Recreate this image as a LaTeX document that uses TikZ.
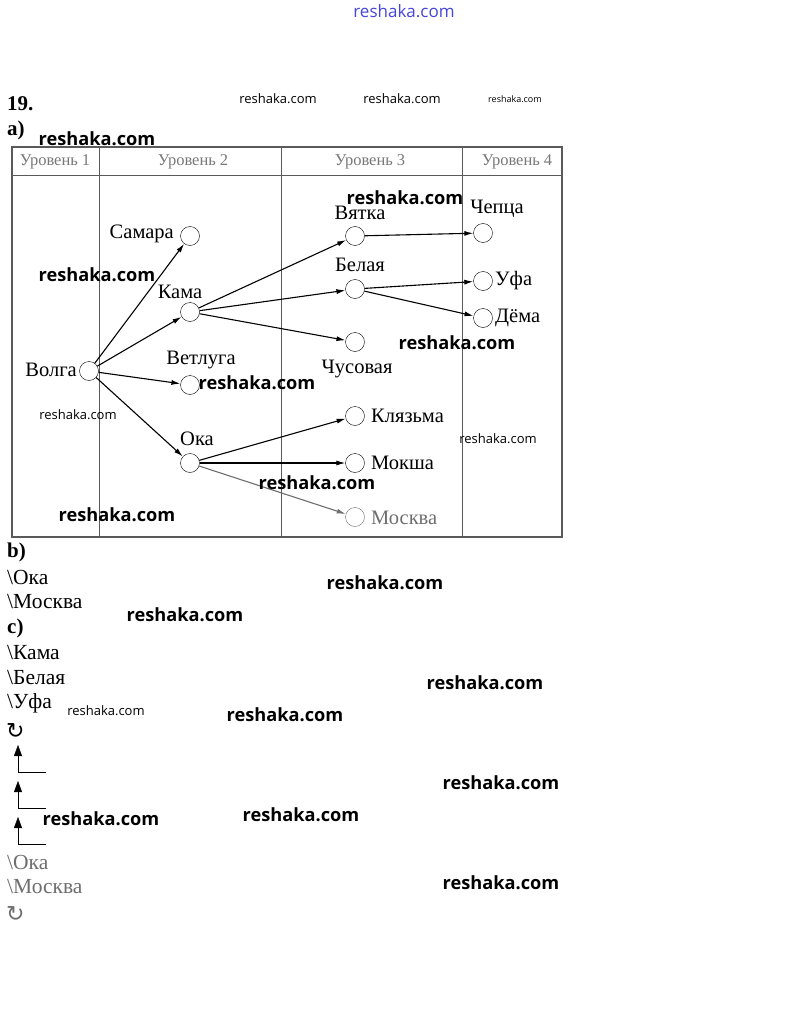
\documentclass[tikz,border=0pt]{standalone}
\usepackage{fontspec}
\setmainfont{Liberation Serif}
\newfontfamily\wmfont{Open Sans}
\newfontfamily\symfont{DejaVu Sans}
\usetikzlibrary{arrows.meta}

\definecolor{framegray}{RGB}{90,90,90}
\definecolor{headgray}{RGB}{120,120,120}
\definecolor{fadegray}{RGB}{110,110,110}
\definecolor{siteblue}{RGB}{70,70,220}

\tikzset{
  river/.style={circle,draw,inner sep=0pt,minimum size=19pt,fill=white},
  flow/.style={-{Latex[length=9pt,width=5pt]},line width=1.1pt},
  lbl/.style={font=\fontsize{20.5}{20.5}\selectfont,inner sep=0pt},
  head/.style={font=\fontsize{16.5}{16.5}\selectfont,text=headgray,inner sep=0pt},
  answer/.style={font=\fontsize{21.5}{21.5}\selectfont,inner sep=0pt,anchor=west},
  part/.style={font=\bfseries\fontsize{21}{21}\selectfont,inner sep=0pt,anchor=west},
  turn/.style={font=\symfont\fontsize{22}{22}\selectfont,inner sep=0pt,anchor=west},
  wm/.style={font=\wmfont\bfseries\fontsize{18.2}{18.2}\selectfont,inner sep=0pt},
  wmsmall/.style={font=\wmfont\fontsize{13}{13}\selectfont,inner sep=0pt},
  wmtiny/.style={font=\wmfont\fontsize{9}{9}\selectfont,inner sep=0pt}
}

\begin{document}
\begin{tikzpicture}[x=1pt,y=-1pt]
  \useasboundingbox[fill=white] (0,0) rectangle (808,1019);

  % site name on top
  \node[font=\wmfont\fontsize{17}{17}\selectfont,text=siteblue,inner sep=0pt] (site) at (404,11) {reshaka.com};

  \node[part] (num) at (7,104) {19.};
  \node[part] (pa) at (7,130) {a)};

  % table
  \draw[framegray,line width=1.2pt] (12,147) rectangle (562,537);
  \draw[framegray,line width=1pt] (12,176) -- (562,176);
  \draw[framegray] (99,147) -- (99,537);
  \draw[framegray] (281,147) -- (281,537);
  \draw[framegray] (462,147) -- (462,537);
  \node[head] (lev1) at (55,162) {Уровень 1};
  \node[head] (lev2) at (193,162) {Уровень 2};
  \node[head] (lev3) at (370,162) {Уровень 3};
  \node[head] (lev4) at (517,162) {Уровень 4};

  % rivers
  \node[river] (volga) at (89,371) {};
  \node[river] (samara) at (190,236) {};
  \node[river] (kama) at (190,312) {};
  \node[river] (vetluga) at (190,385) {};
  \node[river] (oka) at (190,463) {};
  \node[river] (vyatka) at (355,236) {};
  \node[river] (belaya) at (355,289) {};
  \node[river] (chusovaya) at (355,342) {};
  \node[river] (klyazma) at (355,416) {};
  \node[river] (moksha) at (355,463) {};
  \node[river,draw=fadegray] (moskva) at (355,517) {};
  \node[river] (chepca) at (483,233) {};
  \node[river] (ufa) at (483,281) {};
  \node[river] (dema) at (483,318) {};

  \node[lbl,anchor=east] (volga-t) at (77,370) {Волга};
  \node[lbl,anchor=east] (samara-t) at (174,234) {Самара};
  \node[lbl] (kama-t) at (180,292) {Кама};
  \node[lbl] (vetluga-t) at (201,360) {Ветлуга};
  \node[lbl] (oka-t) at (197,439) {Ока};
  \node[lbl] (vyatka-t) at (360,213) {Вятка};
  \node[lbl] (belaya-t) at (360,265) {Белая};
  \node[lbl] (chusovaya-t) at (357,369) {Чусовая};
  \node[lbl,anchor=west] (klyazma-t) at (371,416) {Клязьма};
  \node[lbl,anchor=west] (moksha-t) at (371,463) {Мокша};
  \node[lbl,anchor=west,text=fadegray] (moskva-t) at (371,518) {Москва};
  \node[lbl] (chepca-t) at (497,209) {Чепца};
  \node[lbl,anchor=west] (ufa-t) at (495,281) {Уфа};
  \node[lbl,anchor=west] (dema-t) at (495,318) {Дёма};

  \draw[flow] (volga) -- (samara);
  \draw[flow] (volga) -- (kama);
  \draw[flow] (volga) -- (vetluga);
  \draw[flow] (volga) -- (oka);
  \draw[flow] (kama) -- (vyatka);
  \draw[flow] (kama) -- (belaya);
  \draw[flow] (kama) -- (chusovaya);
  \draw[flow] (vyatka) -- (chepca);
  \draw[flow] (belaya) -- (ufa);
  \draw[flow] (belaya) -- (dema);
  \draw[flow] (oka) -- (klyazma);
  \draw[flow] (oka) -- (moksha);
  \draw[flow,fadegray] (oka) -- (moskva);

  % answers
  \node[part] (pb) at (7,552) {b)};
  \node[answer] (b1) at (7,577) {\textbackslash Ока};
  \node[answer] (b2) at (7,602) {\textbackslash Москва};
  \node[part] (pc) at (7,628) {c)};
  \node[answer] (c1) at (7,653) {\textbackslash Кама};
  \node[answer] (c2) at (7,678) {\textbackslash Белая};
  \node[answer] (c3) at (7,703) {\textbackslash Уфа};
  \node[turn] (loop1) at (6,731) {↻};

  \coordinate (s1) at (18,772);
  \coordinate (t1) at (18,745);
  \coordinate (e1) at (46,772);
  \coordinate (s2) at (18,808);
  \coordinate (t2) at (18,781);
  \coordinate (e2) at (46,808);
  \coordinate (s3) at (18,844);
  \coordinate (t3) at (18,817);
  \coordinate (e3) at (46,844);
  \draw[-{Triangle[length=11pt,width=8pt]}] (s1) -- (t1);
  \draw (s1) -- (e1);
  \draw[-{Triangle[length=11pt,width=8pt]}] (s2) -- (t2);
  \draw (s2) -- (e2);
  \draw[-{Triangle[length=11pt,width=8pt]}] (s3) -- (t3);
  \draw (s3) -- (e3);

  \node[answer,text=fadegray] (d1) at (7,862) {\textbackslash Ока};
  \node[answer,text=fadegray] (d2) at (7,887) {\textbackslash Москва};
  \node[turn,text=fadegray] (loop2) at (6,914) {↻};

  % watermarks
  \node[wmsmall] (wm1) at (278,99) {reshaka.com};
  \node[wmsmall] (wm2) at (402,99) {reshaka.com};
  \node[wmtiny] (wm3) at (515,99) {reshaka.com};
  \node[wm] (wm4) at (97,139) {reshaka.com};
  \node[wm] (wm5) at (405,198) {reshaka.com};
  \node[wm] (wm6) at (97,275) {reshaka.com};
  \node[wm] (wm7) at (457,343) {reshaka.com};
  \node[wm] (wm8) at (257,383) {reshaka.com};
  \node[wmsmall] (wm9) at (78,415) {reshaka.com};
  \node[wmsmall] (wm10) at (498,439) {reshaka.com};
  \node[wm] (wm11) at (317,483) {reshaka.com};
  \node[wm] (wm12) at (117,515) {reshaka.com};
  \node[wm] (wm13) at (385,583) {reshaka.com};
  \node[wm] (wm14) at (185,615) {reshaka.com};
  \node[wm] (wm15) at (485,683) {reshaka.com};
  \node[wmsmall] (wm16) at (106,711) {reshaka.com};
  \node[wm] (wm17) at (285,715) {reshaka.com};
  \node[wm] (wm18) at (501,783) {reshaka.com};
  \node[wm] (wm19) at (101,819) {reshaka.com};
  \node[wm] (wm20) at (301,815) {reshaka.com};
  \node[wm] (wm21) at (501,883) {reshaka.com};
\end{tikzpicture}
\end{document}
